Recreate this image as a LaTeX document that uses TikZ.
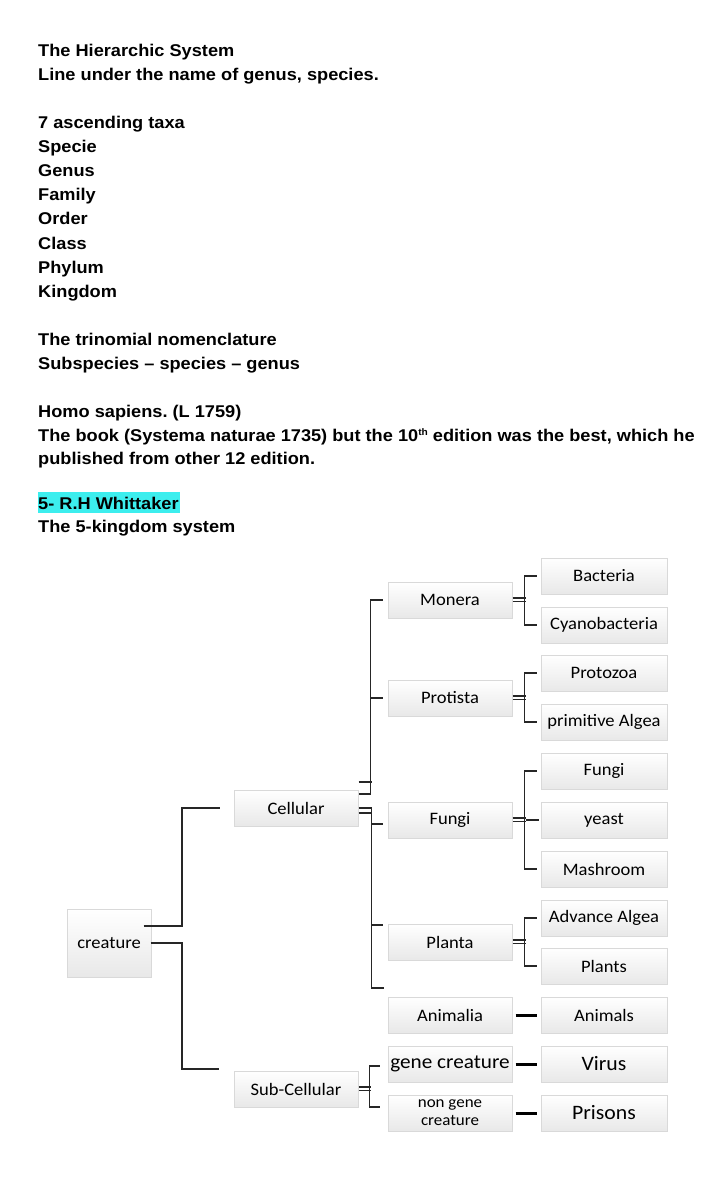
\documentclass[tikz,border=0pt]{standalone}
\usepackage{fontspec}
\setmainfont{Liberation Sans}[FakeStretch=1.07]
\newfontfamily\carlito{Carlito}[FakeStretch=1.06]
\usetikzlibrary{calc}
\definecolor{hl}{RGB}{60,238,238}
\tikzset{
  txt/.style={anchor=base west, inner sep=0pt, font=\bfseries\fontsize{17}{20}\selectfont},
  box/.style={draw=gray!30, line width=1pt, top color=white, bottom color=gray!18,
              minimum width=124pt, minimum height=36pt, inner sep=0pt, align=center,
              font=\carlito\fontsize{17.5}{19}\selectfont},
  rbox/.style={box, minimum width=126pt},
  conn/.style={draw=black!85, line width=1.8pt},
  dbl/.style={draw=black!85, line width=1.3pt},
  thk/.style={draw=black, line width=3pt}
}
\frenchspacing
\begin{document}
\begin{tikzpicture}[x=1pt,y=-1pt]
\useasboundingbox[fill=white] (0,0) rectangle (720,1198);
% ---- text ----
\node[txt] (l1) at (38,57) {The Hierarchic System};
\node[txt] (l2) at (38,81) {Line under the name of genus, species.};
\node[txt] (l3) at (38,129) {7 ascending taxa};
\node[txt] (l4) at (38,153) {Specie};
\node[txt] (l5) at (38,177) {Genus};
\node[txt] (l6) at (38,201) {Family};
\node[txt] (l7) at (38,225) {Order};
\node[txt] (l8) at (38,249) {Class};
\node[txt] (l9) at (38,273) {Phylum};
\node[txt] (l10) at (38,297) {Kingdom};
\node[txt] (l11) at (38,345) {The trinomial nomenclature};
\node[txt] (l12) at (38,369) {Subspecies -- species -- genus};
\node[txt] (l13) at (38,417) {Homo sapiens. (L 1759)};
\node[txt] (l14) at (38,441) {The book (Systema naturae 1735) but the 10\raisebox{6pt}{\fontsize{9.5}{10}\selectfont th} edition was the best, which he};
\node[txt] (l15) at (38,464) {published from other 12 edition.};
\fill[hl] (38,492) rectangle (180,513);
\node[txt] (l16) at (38,509) {5- R.H Whittaker};
\node[txt] (l17) at (38,532) {The 5-kingdom system};
% ---- boxes ----
\node[box, minimum width=84pt, minimum height=68pt] (creature) at (109,943) {creature};
\node[box] (cellular) at (296,808) {Cellular};
\node[box] (subcell) at (296,1089) {Sub-Cellular};
\node[box] (monera) at (450,600) {Monera};
\node[box] (protista) at (450,698) {Protista};
\node[box] (fungik) at (450,820) {Fungi};
\node[box] (planta) at (450,942) {Planta};
\node[box] (animalia) at (450,1015) {Animalia};
\node[box, font=\carlito\fontsize{20}{21}\selectfont] (gene) at (450,1064) {gene creature};
\node[box, font=\carlito\fontsize{16}{18}\selectfont] (nongene) at (450,1113) {non gene\\creature};
\node[rbox] (bacteria) at (604,576) {Bacteria};
\node[rbox] (cyano) at (604,625) {Cyanobacteria};
\node[rbox] (protozoa) at (604,673) {Protozoa};
\node[rbox] (primalg) at (604,722) {primitive Algea};
\node[rbox] (fungis) at (604,771) {Fungi};
\node[rbox] (yeast) at (604,820) {yeast};
\node[rbox] (mash) at (604,869) {Mashroom};
\node[rbox] (advalg) at (604,918) {Advance Algea};
\node[rbox] (plants) at (604,966) {Plants};
\node[rbox] (animals) at (604,1015) {Animals};
\node[rbox, font=\carlito\fontsize{20.5}{21}\selectfont] (virus) at (604,1064) {Virus};
\node[rbox, font=\carlito\fontsize{20.5}{21}\selectfont] (prisons) at (604,1113) {Prisons};
% ---- connectors: creature ----
\coordinate (t0) at (182,0);
\draw[conn] ([xshift=-8pt,yshift=17pt]creature.east) -| (t0 |- cellular.west) -- ([xshift=-14pt]cellular.west);
\coordinate (sb) at (219,1069);
\draw[conn] ([xshift=-1pt]creature.east) -| (t0 |- sb) -- (sb);
% ---- cellular to kingdoms ----
\draw[conn] ([xshift=-5pt]monera.west) -- ++(-12,0) |- ([yshift=14pt]cellular.east);
\draw[conn] ([xshift=-5pt]protista.west) -- ++(-12,0);
\draw[dbl] ([yshift=26pt]cellular.east) -- ++(13,0);
\draw[conn] (cellular.east) -- ++(13,0) -- ++(0,180) -- ++(12,0);
\draw[dbl] ([yshift=-5pt]cellular.east) -- ++(13,0);
\draw[conn] ([xshift=-5pt,yshift=-4pt]fungik.west) -- ++(-12,0);
\draw[conn] ([xshift=-5pt,yshift=17pt]planta.west) -- ++(-12,0);
% ---- kingdoms to groups ----
\draw[dbl] ([yshift=2pt]monera.east) -- ++(13,0);
\draw[dbl] ([yshift=-1.5pt]monera.east) -- ++(13,0);
\draw[conn] ([xshift=-4pt]bacteria.west) -- ++(-12,0) |- ([xshift=-4pt]cyano.west);
\draw[dbl] ([yshift=2pt]protista.east) -- ++(13,0);
\draw[dbl] ([yshift=-1.5pt]protista.east) -- ++(13,0);
\draw[conn] ([xshift=-4pt]protozoa.west) -- ++(-12,0) |- ([xshift=-4pt]primalg.west);
\draw[dbl] ([yshift=2pt]fungik.east) -- ++(13,0);
\draw[dbl] ([yshift=-1.5pt]fungik.east) -- ++(13,0);
\draw[conn] ([xshift=-4pt]fungis.west) -- ++(-12,0) |- ([xshift=-4pt]mash.west);
\draw[conn] ([xshift=13pt]fungik.east) -- ([xshift=-2pt]yeast.west);
\draw[dbl] ([yshift=2pt]planta.east) -- ++(13,0);
\draw[dbl] ([yshift=-1.5pt]planta.east) -- ++(13,0);
\draw[conn] ([xshift=-4pt]advalg.west) -- ++(-12,0) |- ([xshift=-4pt]plants.west);
\draw[thk] ([xshift=3pt]animalia.east) -- ([xshift=-4pt]animals.west);
\draw[thk] ([xshift=3pt]gene.east) -- ([xshift=-4pt]virus.west);
\draw[thk] ([xshift=3pt]nongene.east) -- ([xshift=-4pt]prisons.west);
% ---- sub-cellular ----
\draw[dbl] ([yshift=2pt]subcell.east) -- ++(12,0);
\draw[dbl] ([yshift=-1.5pt]subcell.east) -- ++(12,0);
\draw[conn] ([xshift=-8pt,yshift=-2pt]gene.west) -- ++(-10,0) |- ([xshift=-8pt,yshift=6pt]nongene.west);
\end{tikzpicture}
\end{document}
